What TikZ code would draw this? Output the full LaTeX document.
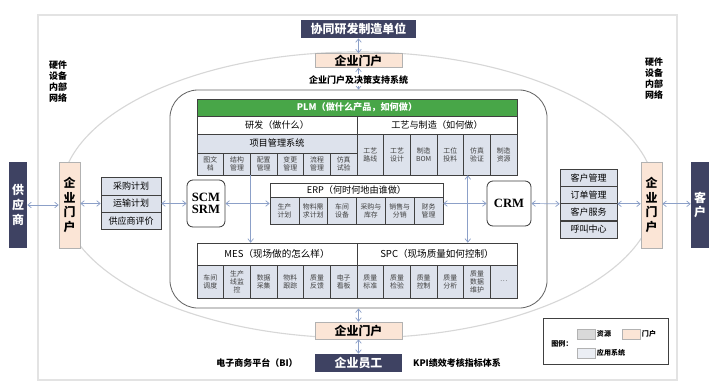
\documentclass[tikz,border=0pt]{standalone}
\usepackage{fontspec}
\setmainfont{Noto Sans CJK SC}
\newfontfamily\latinserif{Liberation Serif}
\usetikzlibrary{arrows.meta}

\definecolor{navy}{RGB}{62,66,98}
\definecolor{peach}{RGB}{251,229,214}
\definecolor{cellfill}{RGB}{221,226,236}
\definecolor{plmgreen}{RGB}{72,166,72}
\definecolor{linkblue}{RGB}{140,160,200}
\definecolor{rimgray}{RGB}{215,215,215}
\definecolor{boxline}{RGB}{64,64,64}

\tikzstyle{navybox} = [rectangle, fill=navy, text=white, font=\bfseries\fontsize{8.5}{10.5}\selectfont, align=center, inner sep=0pt]
\tikzstyle{portal} = [rectangle, fill=peach, draw=gray!60, font=\bfseries\fontsize{8.5}{10.5}\selectfont, align=center, inner sep=0pt]
\tikzstyle{head} = [rectangle, fill=white, draw=boxline, font=\fontsize{6.5}{8}\selectfont, inner sep=0pt]
\tikzstyle{cell} = [rectangle, fill=cellfill, draw=boxline, text=black!75, font=\fontsize{4.9}{5.7}\selectfont, align=center, inner sep=0pt]
\tikzstyle{item} = [rectangle, fill=cellfill, draw=boxline, font=\fontsize{6.4}{7.5}\selectfont, inner sep=0pt, minimum width=1.5cm, minimum height=0.433cm]
\tikzstyle{sysbox} = [rectangle, rounded corners=0.15cm, fill=white, draw=boxline, line width=0.6pt, font=\latinserif\bfseries\fontsize{9}{9}\selectfont, align=center, inner sep=0pt]
\tikzstyle{note} = [font=\bfseries\fontsize{6.4}{7.8}\selectfont, align=center, inner sep=1pt]
\tikzstyle{link} = [{Straight Barb[length=2.5pt,width=4pt]}-{Straight Barb[length=2.5pt,width=4pt]}, draw=linkblue, line width=0.5pt]
\tikzstyle{flow} = [-{Straight Barb[length=2.5pt,width=4pt]}, draw=linkblue, line width=0.5pt]

\begin{document}
\begin{tikzpicture}[x=0.025cm, y=-0.025cm]
    \useasboundingbox (0,0) rectangle (720,391);

    % Fundo
    \draw[rimgray!70, line width=1pt] (38,15) rectangle (677,380);
    \draw[rimgray, line width=0.8pt] (358,195) ellipse [x radius=7.425cm, y radius=3.575cm];
    \node (core) [rectangle, rounded corners=0.7cm, fill=white, draw=boxline!80, line width=0.6pt, minimum width=9.425cm, minimum height=5.45cm] at (358.5,199) {};

    % Topo e base
    \node (partner) [navybox, minimum width=2.85cm, minimum height=0.45cm] at (358.5,29) {协同研发制造单位};
    \node (tportal) [portal, minimum width=2.175cm, minimum height=0.35cm] at (358.5,60.5) {企业门户};
    \node (bportal) [portal, minimum width=2.175cm, minimum height=0.425cm] at (358.5,330.5) {企业门户};
    \node (staff) [navybox, minimum width=2.175cm, minimum height=0.45cm] at (358.5,363) {企业员工};
    \node (bi) [note] at (257,363) {电子商务平台（BI）};
    \node (kpi) [note] at (457,363) {KPI绩效考核指标体系};
    \node (hwl) [note] at (58,82) {硬件\\设备\\内部\\网络};
    \node (hwr) [note] at (654,79) {硬件\\设备\\内部\\网络};

    % Lado esquerdo
    \node (supplier) [navybox, minimum width=0.45cm, minimum height=2.15cm] at (18,205) {供\\应\\商};
    \node (lportal) [portal, minimum width=0.525cm, minimum height=2.15cm] at (69.5,205) {企\\业\\门\\户};
    \node (buy) [item] at (131,186.2) {采购计划};
    \node (ship) [item] at (131,203.5) {运输计划};
    \node (rate) [item] at (131,220.8) {供应商评价};

    % Lado direito
    \node (cust) [navybox, minimum width=0.45cm, minimum height=2.15cm] at (700,205) {客\\户};
    \node (rportal) [portal, minimum width=0.525cm, minimum height=2.15cm] at (651.5,205) {企\\业\\门\\户};
    \node (cm) [item, minimum width=1.425cm, minimum height=0.431cm] at (588.5,177.6) {客户管理};
    \node (om) [item, minimum width=1.425cm, minimum height=0.431cm] at (588.5,194.9) {订单管理};
    \node (cs) [item, minimum width=1.425cm, minimum height=0.431cm] at (588.5,212.1) {客户服务};
    \node (cc) [item, minimum width=1.425cm, minimum height=0.431cm] at (588.5,229.4) {呼叫中心};

    % PLM
    \node (plm) [head, fill=plmgreen, text=white, font=\bfseries\fontsize{6.5}{8}\selectfont, minimum width=8cm, minimum height=0.425cm] at (357,107.5) {PLM（做什么产品，如何做）};
    \node (rd) [head, minimum width=4cm, minimum height=0.45cm] at (277,125) {研发（做什么）};
    \node (pm) [head, minimum width=4cm, minimum height=0.45cm] at (437,125) {工艺与制造（如何做）};
    \node (pms) [head, fill=cellfill, minimum width=4cm, minimum height=0.475cm] at (277,143.5) {项目管理系统};
    \foreach \t [count=\i] in {{图文\\档},{结构\\管理},{配置\\管理},{变更\\管理},{流程\\管理},{仿真\\试验}}
        \node (lc\i) [cell, minimum width=0.667cm, minimum height=0.55cm] at ({197+26.667*(\i-0.5)},164) {\t};
    \foreach \t [count=\i] in {{工艺\\路线},{工艺\\设计},{制造\\BOM},{工位\\投料},{仿真\\验证},{制造\\资源}}
        \node (rc\i) [cell, minimum width=0.667cm, minimum height=1.025cm] at ({357+26.667*(\i-0.5)},154.5) {\t};

    % ERP, SCM, CRM
    \node (scm) [sysbox, minimum width=0.95cm, minimum height=1.175cm] at (206,203.5) {SCM\\SRM};
    \node (crm) [sysbox, minimum width=1.1cm, minimum height=1.125cm] at (509,203.5) {CRM};
    \node (erp) [head, minimum width=4.325cm, minimum height=0.35cm, font=\fontsize{6.5}{7.5}\selectfont] at (356.5,190) {ERP（何时何地由谁做）};
    \foreach \t [count=\i] in {{生产\\计划},{物料需\\求计划},{车间\\设备},{采购与\\库存},{销售与\\分销},{财务\\管理}}
        \node (ec\i) [cell, minimum width=0.7208cm, minimum height=0.675cm] at ({270+28.833*(\i-0.5)},210.5) {\t};

    % MES e SPC
    \node (mes) [head, minimum width=4cm, minimum height=0.55cm, font=\fontsize{6.8}{8}\selectfont] at (277,254) {MES（现场做的怎么样）};
    \node (spc) [head, minimum width=4cm, minimum height=0.55cm, font=\fontsize{6.8}{8}\selectfont] at (437,254) {SPC（现场质量如何控制）};
    \foreach \t [count=\i] in {{车间\\调度},{生产\\线监\\控},{数据\\采集},{物料\\跟踪},{质量\\反馈},{电子\\看板}}
        \node (mc\i) [cell, minimum width=0.667cm, minimum height=0.825cm] at ({197+26.667*(\i-0.5)},281.5) {\t};
    \foreach \t [count=\i] in {{质量\\标准},{质量\\检验},{质量\\控制},{质量\\分析},{质量\\数据\\维护},{…}}
        \node (sc\i) [cell, minimum width=0.667cm, minimum height=0.825cm] at ({357+26.667*(\i-0.5)},281.5) {\t};

    % Legenda
    \node (legend) [rectangle, draw=boxline, line width=0.6pt, minimum width=3.125cm, minimum height=1.15cm] at (605.5,341) {};
    \node (legtitle) [note, font=\bfseries\fontsize{5}{6}\selectfont] at (562,344) {图例：};
    \node (kres) [rectangle, fill=gray!30, draw=gray!60, minimum width=0.45cm, minimum height=0.25cm] at (586,334) {};
    \node (kport) [rectangle, fill=peach, draw=gray!60, minimum width=0.45cm, minimum height=0.25cm] at (631,334) {};
    \node (kapp) [rectangle, fill=cellfill!60, draw=gray!60, minimum width=0.45cm, minimum height=0.25cm] at (586,353) {};
    \node [note, font=\bfseries\fontsize{5}{6}\selectfont, right] at (kres.east) {资源};
    \node [note, font=\bfseries\fontsize{5}{6}\selectfont, right] at (kport.east) {门户};
    \node [note, font=\bfseries\fontsize{5}{6}\selectfont, right] at (kapp.east) {应用系统};

    % Conexões
    \draw [link] (partner) -- (tportal);
    \draw [link] (tportal) -- (core);
    \draw [link] (core) -- (bportal);
    \draw [link] (bportal) -- (staff);
    \draw [link] (supplier) -- (lportal);
    \draw [link] (lportal.east |- ship.west) -- (ship.west);
    \draw [link] (ship) -- (scm);
    \draw [link] (scm.east) -- (scm.east -| ec1.west);
    \draw [link] (crm.west -| ec6.east) -- (crm.west);
    \draw [link] (crm.east) -- (om.south west);
    \draw [link] (om.south east) -- (om.south east -| rportal.west);
    \draw [link] (rportal.east |- om.south east) -- (cust.west |- om.south east);
    \draw [flow] (lc2.south east) -- (lc2.south east |- mes.north);
    \coordinate (vtop) at ([xshift=0.11cm]rc5.south west);
    \draw [link] (vtop) -- (vtop |- spc.north);
    \node (dss) [note, fill=white] at (358.5,80) {企业门户及决策支持系统};

\end{tikzpicture}
\end{document}
